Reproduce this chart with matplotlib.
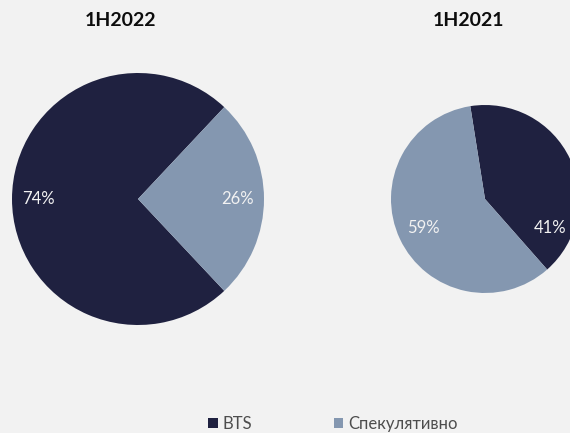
import matplotlib.pyplot as plt
import numpy as np

# Данные
labels = ['BTS', 'Спекулятивно']
share_2022 = [74, 26]
share_2021 = [41, 59]
titles = ['1H2022', '1H2021']

colors = ['#1f2140', '#8497b0']
bg = '#f2f2f2'

plt.rcParams['font.family'] = ['Lato', 'DejaVu Sans']

W, H = 570, 433
fig = plt.figure(figsize=(W / 100, H / 100), dpi=100, facecolor=bg)


def px_axes(cx, cy, r, pad=1.1):
    # оси по центру и радиусу круга в пикселях (y сверху)
    s = r * pad
    return fig.add_axes([(cx - s) / W, (H - cy - s) / H, 2 * s / W, 2 * s / H])


def draw_pie(ax, values, startangle, pctdist):
    wedges, _, autotexts = ax.pie(
        values, colors=colors, startangle=startangle, counterclock=True,
        autopct=lambda p: f'{round(p)}%', pctdistance=pctdist,
        textprops=dict(color='#f2f2f2', fontsize=12, fontstyle='normal'),
        wedgeprops=dict(linewidth=0))
    ax.set_xlim(-1.1, 1.1)
    ax.set_ylim(-1.1, 1.1)
    ax.set_aspect('equal')
    ax.axis('off')
    return wedges, autotexts


# левый круг 1H2022
ax1 = px_axes(138, 199, 126)
wedges, _ = draw_pie(ax1, share_2022, 46.8, 0.79)

# правый круг 1H2021
ax2 = px_axes(485, 199, 94)
_, texts2 = draw_pie(ax2, share_2021, -48.6, 0.72)
# подпись 41% в Excel стоит ниже середины сектора
a = np.deg2rad(-24)
texts2[0].set_position((0.76 * np.cos(a), 0.76 * np.sin(a)))

fig.text(121 / W, 1 - 20 / H, titles[0], ha='center', va='center',
         fontsize=14, fontweight='bold', color='#0d0d0d')
fig.text(469 / W, 1 - 20 / H, titles[1], ha='center', va='center',
         fontsize=14, fontweight='bold', color='#0d0d0d')

fig.legend(wedges, labels, loc='center', bbox_to_anchor=(333 / W, 1 - 424 / H),
           ncol=2, frameon=False, fontsize=12, labelcolor='#4d4d4d',
           handlelength=0.55, handleheight=0.55, handletextpad=0.3,
           columnspacing=4.9)

fig.savefig('out.png', dpi=100, facecolor=bg)
